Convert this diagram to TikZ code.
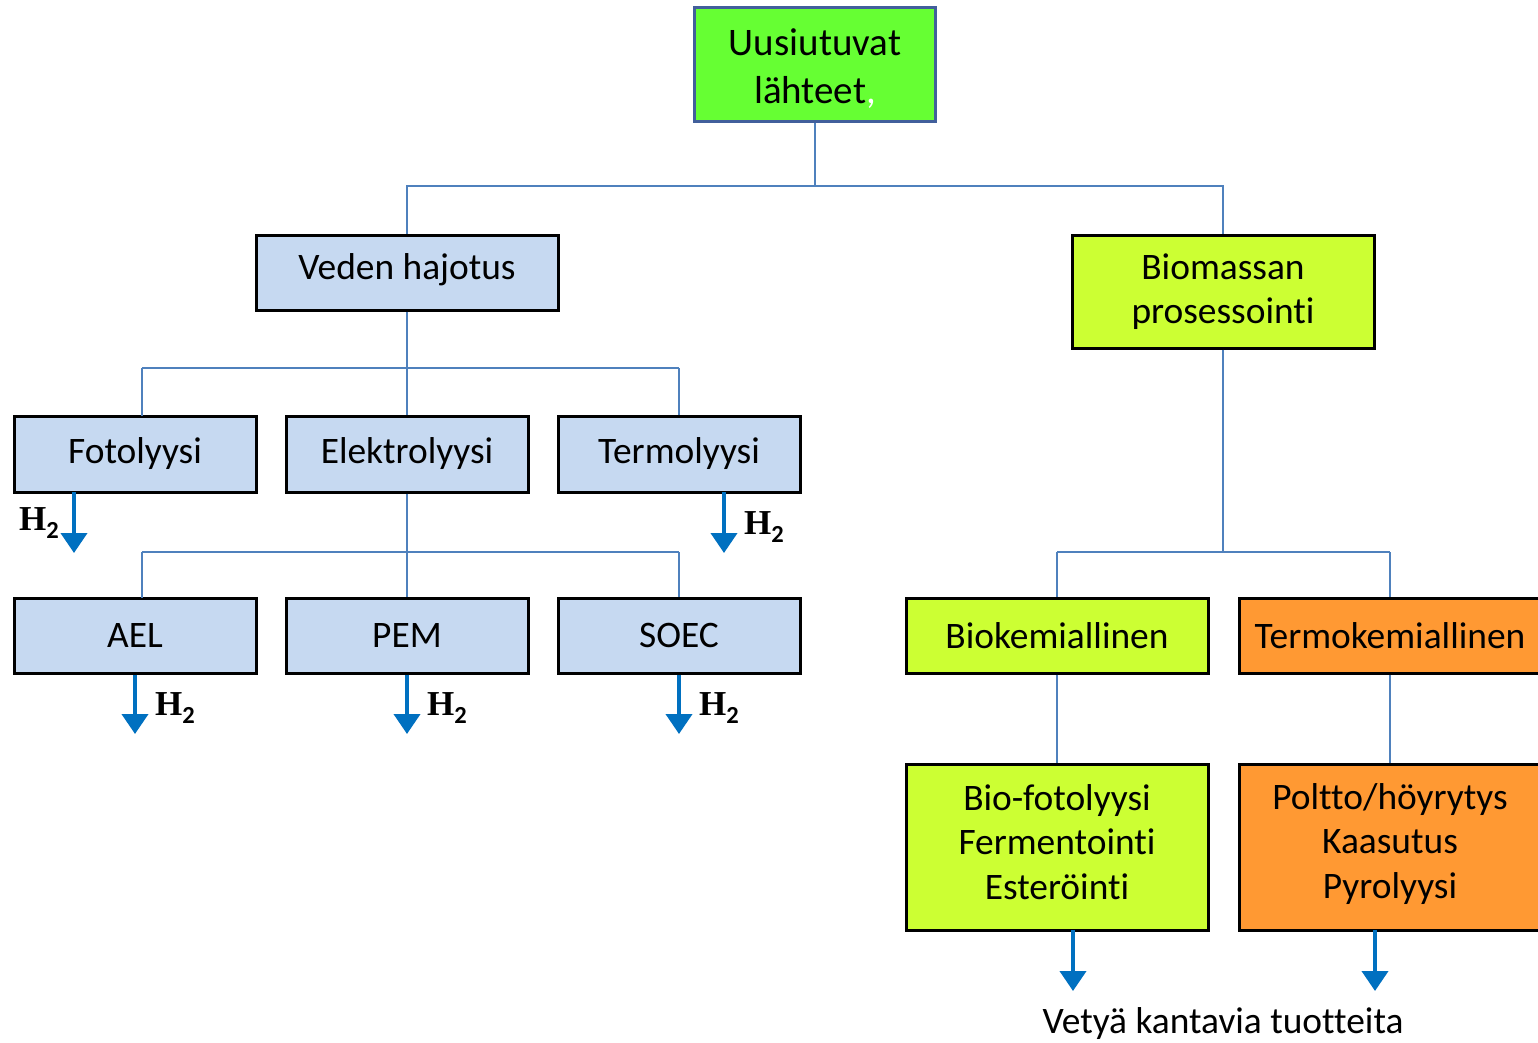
\documentclass[tikz,border=0pt]{standalone}
\usepackage{fontspec}
\setmainfont[Ligatures=NoCommon]{Carlito}
\newfontfamily\serifbold{Liberation Serif}
\usetikzlibrary{arrows.meta}
\definecolor{linkblue}{RGB}{79,129,189}
\definecolor{arrowblue}{RGB}{0,112,192}
\definecolor{rootframe}{RGB}{65,95,155}
\definecolor{rootgreen}{RGB}{102,255,51}
\definecolor{paleblue}{RGB}{198,217,241}
\definecolor{lime}{RGB}{204,255,51}
\definecolor{orangefill}{RGB}{255,153,51}
\tikzset{
  x=1pt, y=-1pt,
  box/.style={draw=black, line width=3pt, align=center, inner sep=0pt,
    font=\fontsize{37.4}{44.5}\selectfont, minimum width=302pt},
  boxtext/.style={align=center, inner sep=0pt, font=\fontsize{37.4}{44.5}\selectfont},
  waterbox/.style={box, fill=paleblue, minimum width=242pt, minimum height=76pt},
  biobox/.style={box, fill=lime},
  thermobox/.style={box, fill=orangefill},
  link/.style={draw=linkblue, line width=2pt},
  outflow/.style={draw=arrowblue, line width=4pt, -{Triangle[width=26pt,length=20pt]}},
  htwo/.style={font=\serifbold\bfseries\fontsize{35}{35}\selectfont, inner sep=0pt}
}
\newcommand{\Htwo}{H$_{\mathbf{2}}$}
\begin{document}
\begin{tikzpicture}
\clip (0,0) rectangle (1538,1043);
\fill[white] (0,0) rectangle (1538,1043);

% root
\node[box, draw=rootframe, fill=rootgreen, minimum width=241pt, minimum height=114pt] (root) at (815,65) {};
\node[boxtext, font=\fontsize{39}{48}\selectfont] (roottext) at (815,69)
      {Uusiutuvat\\lähteet\textcolor{white}{,}};

% second level
\node[waterbox, minimum width=302pt, minimum height=75pt] (water) at (407,272.5) {};
\node[boxtext] (watertext) at (407,270) {Veden hajotus};
\node[biobox, minimum height=113pt] (bio) at (1223,291.5) {Biomassan\\prosessointi};

% water splitting methods
\node[waterbox] (foto) at (135,454) {Fotolyysi};
\node[waterbox] (elek) at (407,454) {Elektrolyysi};
\node[waterbox] (termo) at (679,454) {Termolyysi};

% electrolysis types
\node[waterbox, minimum height=75pt] (ael) at (135,635.5) {AEL};
\node[waterbox, minimum height=75pt] (pem) at (407,635.5) {PEM};
\node[waterbox, minimum height=75pt] (soec) at (679,635.5) {SOEC};

% biomass routes
\node[biobox, minimum height=75pt] (biokem) at (1057,635.5) {Biokemiallinen};
\node[thermobox, minimum height=75pt] (termokem) at (1390,635.5) {Termokemiallinen};
\node[biobox, minimum height=166pt] (bioproc) at (1057,847) {};
\node[boxtext] (bioproctext) at (1057,842) {Bio-fotolyysi\\Fermentointi\\Esteröinti};
\node[thermobox, minimum height=166pt] (termoproc) at (1390,847) {};
\node[boxtext] (termoproctext) at (1390,844) {Poltto/höyrytys\\Kaasutus\\Pyrolyysi};

% tree connectors
\draw[link] (root.south) -- (815,186) -| (water.north);
\draw[link] (815,186) -| (bio.north);
\draw[link] (water.south) -- (407,368) -- (elek.north);
\draw[link] (142,368) -- (679,368);
\draw[link] (142,368) -- (142,416);
\draw[link] (679,368) -- (termo.north);
\draw[link] (elek.south) -- (407,552) -- (pem.north);
\draw[link] (142,552) -- (679,552);
\draw[link] (142,552) -- (142,598);
\draw[link] (679,552) -- (soec.north);
\draw[link] (bio.south) -- (1223,552);
\draw[link] (1057,552) -- (1390,552);
\draw[link] (1057,552) -- (biokem.north);
\draw[link] (1390,552) -- (termokem.north);
\draw[link] (biokem.south) -- (bioproc.north);
\draw[link] (termokem.south) -- (termoproc.north);

% hydrogen outputs
\coordinate (fotoout) at (74,553);
\coordinate (termoout) at (724,553);
\coordinate (aelout) at (135,734);
\coordinate (pemout) at (407,734);
\coordinate (soecout) at (679,734);
\coordinate (bioout) at (1073,991);
\coordinate (termoprocout) at (1375,991);
\draw[outflow] (74,492) -- (fotoout);
\draw[outflow] (724,492) -- (termoout);
\draw[outflow] (ael.south) -- (aelout);
\draw[outflow] (pem.south) -- (pemout);
\draw[outflow] (soec.south) -- (soecout);
\draw[outflow] (1073,930) -- (bioout);
\draw[outflow] (1375,930) -- (termoprocout);

\node[htwo, anchor=west] (h1) at (19,523) {\Htwo};
\node[htwo, anchor=west] (h2) at (744,527) {\Htwo};
\node[htwo, anchor=west] (h3) at (155,708) {\Htwo};
\node[htwo, anchor=west] (h4) at (427,708) {\Htwo};
\node[htwo, anchor=west] (h5) at (699,708) {\Htwo};

\node[font=\fontsize{37.4}{37.4}\selectfont, inner sep=0pt] (products) at (1223,1024) {Vetyä kantavia tuotteita};
\end{tikzpicture}
\end{document}
